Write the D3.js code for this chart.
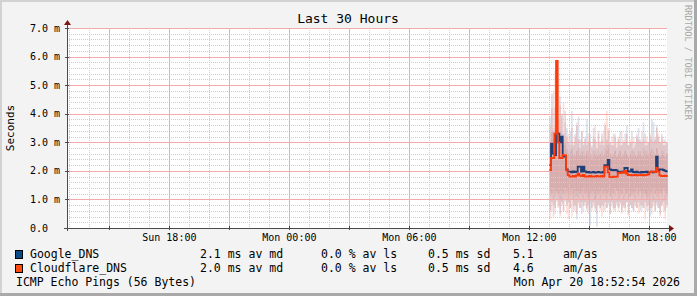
<!DOCTYPE html>
<html>
<head>
<meta charset="utf-8">
<title>Last 30 Hours</title>
<script src="https://cdn.jsdelivr.net/npm/d3@7"></script>
<style>
body { margin: 0; background: #f3f3f3; }
svg text { font-family: "DejaVu Sans Mono", monospace; fill: #000; }
</style>
</head>
<body>
<script>
// time window of the graph (UTC)
var startTime = new Date(Date.UTC(2026, 3, 19, 12, 52, 54));
var endTime = new Date(Date.UTC(2026, 3, 20, 18, 52, 54));
var firstSample = new Date(Date.UTC(2026, 3, 20, 13, 0, 0));
var stepMinutes = 5;

var yTicks = [0, 1, 2, 3, 4, 5, 6, 7];
var yTickLabels = ["0.0", "1.0 m", "2.0 m", "3.0 m", "4.0 m", "5.0 m", "6.0 m", "7.0 m"];

// median rtt, ms
var googleMedian = [
  2.2, 2.95, 2.6, 2.55, 3.35, 3.3, 3.0, 3.2, 2.5, 2.5,
  2.05, 1.97, 1.97, 1.95, 1.98, 1.96, 1.97, 2.15, 2.15, 1.97,
  2.15, 1.98, 1.95, 1.96, 1.94, 1.95, 1.96, 1.94, 1.95, 1.96,
  1.95, 1.94, 1.96, 2.2, 2.2, 2.38, 2.05, 2.03, 2.02, 2.03,
  2.02, 1.96, 1.95, 1.97, 1.96, 2.1, 2.1, 1.97, 1.98, 2.05,
  1.96, 1.95, 1.97, 1.95, 1.94, 1.96, 1.95, 1.96, 1.97, 1.94,
  1.96, 1.97, 1.95, 1.96, 2.5, 2.0, 2.05, 2.05, 2.03, 2.0,
  1.98
];
var cloudflareMedian = [
  2.03, 2.45, 2.45, 3.3, 5.85, 3.0, 2.45, 2.45, 2.55, 2.55,
  2.02, 1.85, 1.8, 1.8, 1.82, 1.8, 1.84, 1.9, 1.83, 1.82,
  1.86, 1.8, 1.81, 1.8, 1.82, 1.8, 1.81, 1.8, 1.82, 1.81,
  1.8, 1.82, 1.8, 2.15, 2.15, 1.95, 1.78, 1.78, 1.8, 1.79,
  1.8, 1.93, 1.92, 1.95, 1.93, 2.0, 1.9, 1.85, 1.86, 1.84,
  1.85, 1.86, 1.84, 1.85, 1.85, 1.86, 1.84, 1.85, 1.86, 1.88,
  1.96, 1.97, 1.97, 1.96, 2.1, 1.97, 1.84, 1.82, 1.82, 1.83,
  1.82
];

// smoke: outer min/max and inner quartiles, ms
var googleHi = [
  3.9, 4.7, 3.4, 4.2, 4.6, 3.8, 4.6, 4.0, 3.3, 4.1,
  3.5, 3.0, 3.4, 4.1, 2.9, 3.3, 3.6, 3.9, 3.1, 3.4,
  2.9, 3.2, 3.8, 3.0, 3.3, 2.9, 3.5, 3.1, 2.8, 3.4,
  3.0, 3.3, 2.9, 3.6, 3.1, 3.4, 3.0, 2.9, 3.3, 3.2,
  2.8, 3.1, 3.4, 2.9, 3.0, 3.3, 3.6, 2.9, 3.0, 3.4,
  2.8, 3.0, 3.2, 3.5, 3.1, 3.0, 3.7, 3.3, 2.9, 3.0,
  3.2, 3.8, 3.7, 3.1, 3.6, 3.2, 3.0, 3.3, 2.9, 3.1,
  3.0
];
var googleLo = [
  0.6, 0.9, 0.4, 0.7, 1.0, 0.8, 0.5, 0.9, 0.6, 1.0,
  0.8, 0.9, 0.7, 1.0, 0.6, 0.8, 0.3, 0.9, 0.7, 0.5,
  0.8, 0.9, 0.6, 0.8, 0.1, 0.7, 0.9, 0.6, 0.05, 0.8,
  0.7, 0.8, 0.6, 0.9, 0.7, 0.8, 0.5, 0.9, 0.7, 0.6,
  0.8, 0.7, 0.9, 0.6, 0.8, 0.7, 0.9, 0.5, 0.8, 0.7,
  0.6, 0.8, 0.7, 0.9, 0.6, 0.8, 0.7, 0.9, 0.6, 0.8,
  0.4, 0.7, 0.9, 0.6, 0.8, 0.7, 0.5, 0.8, 0.9, 0.6,
  0.8
];
var googleQ3 = [
  3.0, 3.4, 3.1, 3.3, 3.5, 3.2, 3.4, 3.3, 2.9, 3.0,
  2.8, 2.6, 2.7, 2.8, 2.5, 2.6, 2.7, 2.8, 2.6, 2.7,
  2.5, 2.6, 2.7, 2.5, 2.6, 2.4, 2.7, 2.6, 2.5, 2.7,
  2.6, 2.5, 2.6, 2.8, 2.7, 2.9, 2.6, 2.5, 2.6, 2.7,
  2.5, 2.6, 2.7, 2.5, 2.6, 2.7, 2.6, 2.5, 2.6, 2.7,
  2.5, 2.6, 2.5, 2.7, 2.6, 2.5, 2.8, 2.7, 2.6, 2.5,
  2.6, 2.8, 2.7, 2.6, 2.8, 2.6, 2.5, 2.7, 2.6, 2.5,
  2.6
];
var googleQ1 = [
  1.3, 1.2, 1.4, 1.1, 1.3, 1.2, 1.0, 1.3, 1.2, 1.4,
  1.3, 1.2, 1.3, 1.4, 1.2, 1.3, 1.1, 1.3, 1.2, 1.3,
  1.4, 1.2, 1.3, 1.1, 1.2, 1.3, 1.2, 1.0, 1.3, 1.2,
  1.3, 1.4, 1.2, 1.3, 1.2, 1.3, 1.1, 1.3, 1.2, 1.4,
  1.3, 1.2, 1.3, 1.2, 1.4, 1.3, 1.2, 1.3, 1.1, 1.3,
  1.2, 1.3, 1.4, 1.2, 1.3, 1.2, 1.3, 1.2, 1.1, 1.3,
  1.2, 1.3, 1.4, 1.2, 1.3, 1.2, 1.3, 1.2, 1.4, 1.3,
  1.2
];
var cloudflareHi = [
  3.6, 4.2, 4.8, 5.5, 5.9, 5.2, 4.3, 3.9, 4.4, 3.7,
  3.2, 3.3, 2.9, 3.5, 3.0, 3.2, 3.7, 3.1, 2.8, 3.4,
  3.0, 3.1, 2.9, 3.3, 3.0, 2.8, 3.2, 3.6, 3.0, 3.3,
  2.9, 3.1, 3.4, 3.7, 4.1, 3.5, 3.0, 3.2, 2.9, 3.3,
  3.0, 3.2, 2.9, 3.4, 3.1, 3.0, 3.3, 2.9, 3.1, 3.0,
  3.2, 2.9, 3.3, 3.1, 3.0, 3.4, 3.1, 2.9, 3.2, 3.0,
  3.3, 3.1, 3.0, 3.2, 3.5, 3.3, 3.0, 3.2, 3.1, 2.9,
  3.0
];
var cloudflareLo = [
  0.3, 0.6, 0.8, 0.5, 0.9, 0.7, 0.4, 0.8, 0.6, 0.9,
  0.5, 0.3, 0.7, 0.4, 0.8, 0.6, 0.5, 0.8, 0.7, 0.9,
  0.6, 0.8, 0.7, 0.5, 0.9, 0.6, 0.8, 0.7, 0.5, 0.8,
  0.6, 0.4, 0.8, 0.6, 0.7, 0.9, 0.5, 0.8, 0.6, 0.7,
  0.9, 0.6, 0.8, 0.5, 0.7, 0.6, 0.9, 0.4, 0.8, 0.7,
  0.6, 0.9, 0.7, 0.5, 0.8, 0.6, 0.7, 0.3, 0.8, 0.6,
  0.7, 0.5, 0.8, 0.6, 0.9, 0.7, 0.4, 0.8, 0.6, 0.3,
  0.7
];
var cloudflareQ3 = [
  2.9, 3.3, 3.5, 3.6, 3.8, 3.4, 3.2, 3.0, 3.1, 2.9,
  2.7, 2.6, 2.5, 2.7, 2.6, 2.5, 2.7, 2.6, 2.5, 2.6,
  2.7, 2.5, 2.6, 2.7, 2.5, 2.6, 2.5, 2.7, 2.6, 2.5,
  2.6, 2.7, 2.5, 2.6, 2.9, 2.8, 2.6, 2.5, 2.6, 2.7,
  2.5, 2.6, 2.7, 2.5, 2.6, 2.7, 2.6, 2.5, 2.6, 2.5,
  2.7, 2.6, 2.5, 2.6, 2.7, 2.5, 2.6, 2.5, 2.7, 2.6,
  2.7, 2.6, 2.5, 2.6, 2.8, 2.6, 2.5, 2.6, 2.7, 2.5,
  2.6
];
var cloudflareQ1 = [
  1.1, 1.2, 1.0, 1.3, 1.2, 1.1, 1.3, 1.0, 1.2, 1.1,
  1.2, 1.0, 1.1, 1.2, 1.0, 1.1, 1.3, 1.0, 1.2, 1.1,
  1.0, 1.2, 1.1, 1.0, 1.2, 1.1, 1.3, 1.0, 1.1, 1.2,
  1.0, 1.1, 1.2, 1.1, 1.0, 1.2, 1.1, 1.0, 1.2, 1.1,
  1.3, 1.0, 1.1, 1.2, 1.0, 1.1, 1.2, 1.0, 1.1, 1.2,
  1.1, 1.0, 1.2, 1.1, 1.3, 1.0, 1.1, 1.2, 1.0, 1.1,
  1.2, 1.1, 1.0, 1.2, 1.1, 1.0, 1.2, 1.1, 1.3, 1.0,
  1.1
];

var legendNames = ["Google_DNS", "Cloudflare_DNS"];
var legendMedian = ["2.1 ms av md", "2.0 ms av md"];
var legendLoss = ["0.0 % av ls", "0.0 % av ls"];
var legendSd = ["0.5 ms sd", "0.5 ms sd"];
var legendAmas = ["5.1", "4.6"];

var width = 697, height = 296;
var plotL = 67, plotR = 667, plotT = 28, plotB = 228;

var svg = d3.select("body").append("svg")
    .attr("width", width)
    .attr("height", height);

// background + 3d border
svg.append("rect").attr("width", width).attr("height", height).attr("fill", "#f3f3f3");
svg.append("rect").attr("x", 0).attr("y", 0).attr("width", width).attr("height", 2).attr("fill", "#d2d2d2");
svg.append("rect").attr("x", 0).attr("y", 0).attr("width", 2).attr("height", height).attr("fill", "#d2d2d2");
svg.append("rect").attr("x", 0).attr("y", height - 3).attr("width", width).attr("height", 3).attr("fill", "#a9a9a9");
svg.append("rect").attr("x", width - 3).attr("y", 0).attr("width", 3).attr("height", height).attr("fill", "#a9a9a9");

var x = d3.scaleUtc().domain([startTime, endTime]).range([plotL, plotR]);
var y = d3.scaleLinear().domain([0, 7]).range([plotB, plotT]);

svg.append("rect").attr("x", plotL).attr("y", plotT)
    .attr("width", plotR - plotL).attr("height", plotB - plotT).attr("fill", "#ffffff");

function sampleTime(i) { return d3.utcMinute.offset(firstSample, i * stepMinutes); }

// smoke, translucent layers
function drawSmoke(lo, q1, q3, hi, color, outerAlpha, innerAlpha) {
  var g = svg.append("g");
  var idx = d3.range(lo.length);
  function bar(a, b, alpha) {
    g.selectAll(null).data(idx).enter().append("rect")
      .attr("x", function(i) { return x(sampleTime(i)); })
      .attr("width", function(i) { return x(sampleTime(i + 1)) - x(sampleTime(i)); })
      .attr("y", function(i) { return y(b[i]); })
      .attr("height", function(i) { return Math.max(0, y(a[i]) - y(b[i])); })
      .attr("fill", color)
      .attr("fill-opacity", alpha);
  }
  bar(lo, q1, outerAlpha);
  bar(q3, hi, outerAlpha);
  bar(q1, q3, innerAlpha);
}
drawSmoke(googleLo, googleQ1, googleQ3, googleHi, "#1f468c", 0.16, 0.24);
drawSmoke(cloudflareLo, cloudflareQ1, cloudflareQ3, cloudflareHi, "#ff461e", 0.17, 0.27);

// grid
var grid = svg.append("g");
function hLines(vals, color, dash) {
  grid.selectAll(null).data(vals).enter().append("line")
    .attr("x1", plotL).attr("x2", plotR)
    .attr("y1", function(d) { return Math.round(y(d)) + 0.5; })
    .attr("y2", function(d) { return Math.round(y(d)) + 0.5; })
    .attr("stroke", color).attr("stroke-dasharray", dash);
}
function vLines(vals, color, dash) {
  grid.selectAll(null).data(vals).enter().append("line")
    .attr("y1", plotT).attr("y2", plotB)
    .attr("x1", function(d) { return Math.round(x(d)) + 0.5; })
    .attr("x2", function(d) { return Math.round(x(d)) + 0.5; })
    .attr("stroke", color).attr("stroke-dasharray", dash);
}
var minorY = d3.range(0, 7.01, 0.2).filter(function(v) { return Math.abs(v - Math.round(v)) > 0.01; });
var majorX = d3.utcHour.every(3).range(startTime, endTime);
var majorSet = new Set(majorX.map(function(d) { return +d; }));
var minorX = d3.utcHour.range(startTime, endTime).filter(function(d) { return !majorSet.has(+d); });
hLines(minorY, "#cdcdcd", "1,1");
vLines(minorX, "#cdcdcd", "1,1");
hLines(yTicks.slice(1), "#f4aaaa", null);
// major verticals as 1px rects
grid.selectAll(null).data(majorX).enter().append("rect")
    .attr("x", function(d) { return Math.round(x(d)); })
    .attr("y", plotT)
    .attr("width", 1)
    .attr("height", plotB - plotT)
    .attr("fill", "#f4aaaa");

// median lines
function drawMedian(values, color) {
  var pts = values.map(function(v, i) { return [sampleTime(i), v]; });
  pts.push([sampleTime(values.length), values[values.length - 1]]);
  svg.append("path")
    .datum(pts)
    .attr("fill", "none")
    .attr("stroke", color)
    .attr("stroke-width", 1.8)
    .attr("d", d3.line().curve(d3.curveStepAfter)
      .x(function(d) { return x(d[0]); })
      .y(function(d) { return y(d[1]); }));
}
drawMedian(googleMedian, "#213f74");
drawMedian(cloudflareMedian, "#ff3a0a");

// axes
var axisColor = "#4a4a4a", arrowColor = "#7a1616";
svg.append("line").attr("x1", plotL + 0.5).attr("x2", plotL + 0.5).attr("y1", plotB + 3).attr("y2", plotT - 4)
    .attr("stroke", axisColor);
svg.append("line").attr("x1", plotL - 3).attr("x2", plotR + 4).attr("y1", plotB + 0.5).attr("y2", plotB + 0.5)
    .attr("stroke", axisColor);
svg.append("path").attr("d", "M" + (plotL - 3) + "," + (plotT - 3) + "L" + (plotL + 0.5) + "," + (plotT - 8) + "L" + (plotL + 4) + "," + (plotT - 3) + "Z")
    .attr("fill", arrowColor);
svg.append("path").attr("d", "M" + (plotR + 2) + "," + (plotB - 3) + "L" + (plotR + 7) + "," + (plotB + 0.5) + "L" + (plotR + 2) + "," + (plotB + 4) + "Z")
    .attr("fill", arrowColor);
svg.selectAll(null).data(yTicks).enter().append("line")
    .attr("x1", plotL - 2).attr("x2", plotL + 2)
    .attr("y1", function(d) { return Math.round(y(d)) + 0.5; })
    .attr("y2", function(d) { return Math.round(y(d)) + 0.5; })
    .attr("stroke", axisColor);
svg.selectAll(null).data(majorX).enter().append("line")
    .attr("y1", plotB - 2).attr("y2", plotB + 2)
    .attr("x1", function(d) { return Math.round(x(d)) + 0.5; })
    .attr("x2", function(d) { return Math.round(x(d)) + 0.5; })
    .attr("stroke", axisColor);

svg.selectAll(null).data(yTicks).enter().append("text")
    .attr("x", 30)
    .attr("y", function(d) { return y(d) + 3.5; })
    .style("font-size", "10px")
    .text(function(d, i) { return yTickLabels[i]; });

var fmt = d3.utcFormat("%a %H:%M");
svg.selectAll(null).data(d3.utcHour.every(6).range(startTime, endTime)).enter().append("text")
    .attr("x", function(d) { return x(d); })
    .attr("y", 241)
    .attr("text-anchor", "middle")
    .style("font-size", "10px")
    .text(fmt);

// titles
svg.append("text").attr("x", 348).attr("y", 23).attr("text-anchor", "middle")
    .style("font-size", "13px").text("Last 30 Hours");
svg.append("text").attr("transform", "translate(14,128) rotate(-90)").attr("text-anchor", "middle")
    .style("font-size", "11px").text("Seconds");
svg.append("text").attr("transform", "translate(685,5) rotate(90)")
    .style("font-size", "8.7px").style("fill", "#a8a8a8").text("RRDTOOL / TOBI OETIKER");

// legend
var legendColors = ["#0b4a86", "#ff4a12"];
legendNames.forEach(function(name, i) {
  var by = 258 + i * 14;
  svg.append("rect").attr("x", 15.5).attr("y", by - 7.5).attr("width", 7).attr("height", 8)
    .attr("fill", legendColors[i]).attr("stroke", "#000");
  var row = svg.append("g").style("font-size", "11.5px");
  row.append("text").attr("x", 30).attr("y", by).text(name);
  row.append("text").attr("x", 200).attr("y", by).text(legendMedian[i]);
  row.append("text").attr("x", 321).attr("y", by).text(legendLoss[i]);
  row.append("text").attr("x", 428).attr("y", by).text(legendSd[i]);
  row.append("text").attr("x", 513).attr("y", by).text(legendAmas[i]);
  row.append("text").attr("x", 563).attr("y", by).text("am/as");
});
svg.append("text").attr("x", 16).attr("y", 286).style("font-size", "11.5px").text("ICMP Echo Pings (56 Bytes)");
svg.append("text").attr("x", 680).attr("y", 286).attr("text-anchor", "end").style("font-size", "11.5px")
    .text("Mon Apr 20 18:52:54 2026");
</script>
</body>
</html>
